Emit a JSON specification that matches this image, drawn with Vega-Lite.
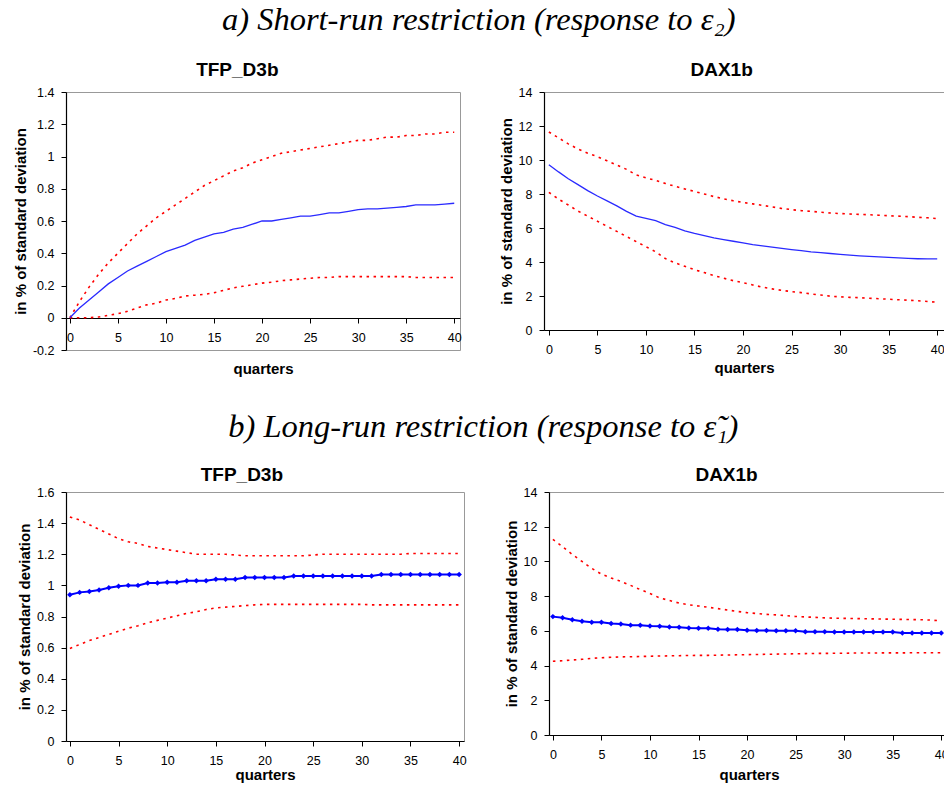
{
"$schema": "https://vega.github.io/schema/vega-lite/v6.json",
"padding": {"left": 12, "top": 4, "right": 0, "bottom": 0},
"background": "white",
"config": {
  "view": {"stroke": "#999999", "strokeWidth": 1},
  "axis": {"grid": false, "domainColor": "#000000", "tickColor": "#000000", "labelColor": "#000000", "titleColor": "#000000", "labelFont": "Liberation Sans", "titleFont": "Liberation Sans", "labelFontSize": 12.5, "titleFontSize": 15, "titleFontWeight": "bold", "tickSize": 5, "domainWidth": 1.2, "labelOverlap": false, "labelBound": false, "labelFlush": false},
  "axisY": {"labelPadding": 7, "titlePadding": 4},
  "axisX": {"labelPadding": 8, "titlePadding": 5},
  "title": {"font": "Liberation Sans", "fontSize": 19, "fontWeight": "bold", "color": "#000000", "offset": 6, "frame": "bounds"},
  "line": {"interpolate": "linear"}
},
"datasets": {
"a1": [
{"t":0,"m":0,"lo":0,"hi":0},{"t":1,"m":0.06,"lo":0,"hi":0.10},{"t":2,"m":0.11,"lo":0,"hi":0.19},{"t":3,"m":0.16,"lo":0.005,"hi":0.27},{"t":4,"m":0.21,"lo":0.015,"hi":0.34},{"t":5,"m":0.25,"lo":0.025,"hi":0.40},{"t":6,"m":0.29,"lo":0.04,"hi":0.46},{"t":7,"m":0.32,"lo":0.06,"hi":0.52},{"t":8,"m":0.35,"lo":0.08,"hi":0.57},{"t":9,"m":0.38,"lo":0.09,"hi":0.62},{"t":10,"m":0.41,"lo":0.11,"hi":0.66},{"t":11,"m":0.43,"lo":0.12,"hi":0.70},{"t":12,"m":0.45,"lo":0.135,"hi":0.74},{"t":13,"m":0.48,"lo":0.14,"hi":0.78},{"t":14,"m":0.50,"lo":0.145,"hi":0.82},{"t":15,"m":0.52,"lo":0.155,"hi":0.85},{"t":16,"m":0.53,"lo":0.17,"hi":0.88},{"t":17,"m":0.55,"lo":0.185,"hi":0.91},{"t":18,"m":0.56,"lo":0.195,"hi":0.93},{"t":19,"m":0.58,"lo":0.205,"hi":0.96},{"t":20,"m":0.60,"lo":0.215,"hi":0.98},{"t":21,"m":0.60,"lo":0.22,"hi":1.00},{"t":22,"m":0.61,"lo":0.23,"hi":1.02},{"t":23,"m":0.62,"lo":0.235,"hi":1.03},{"t":24,"m":0.63,"lo":0.24,"hi":1.04},{"t":25,"m":0.63,"lo":0.245,"hi":1.05},{"t":26,"m":0.64,"lo":0.25,"hi":1.06},{"t":27,"m":0.65,"lo":0.25,"hi":1.07},{"t":28,"m":0.65,"lo":0.255,"hi":1.08},{"t":29,"m":0.66,"lo":0.255,"hi":1.09},{"t":30,"m":0.67,"lo":0.255,"hi":1.10},{"t":31,"m":0.675,"lo":0.255,"hi":1.10},{"t":32,"m":0.675,"lo":0.255,"hi":1.11},{"t":33,"m":0.68,"lo":0.255,"hi":1.12},{"t":34,"m":0.685,"lo":0.255,"hi":1.12},{"t":35,"m":0.69,"lo":0.255,"hi":1.13},{"t":36,"m":0.70,"lo":0.25,"hi":1.13},{"t":37,"m":0.70,"lo":0.25,"hi":1.14},{"t":38,"m":0.70,"lo":0.25,"hi":1.14},{"t":39,"m":0.705,"lo":0.25,"hi":1.15},{"t":40,"m":0.71,"lo":0.25,"hi":1.15}
],
"a2": [
{"t":0,"m":9.72,"lo":8.1,"hi":11.65},{"t":1,"m":9.3,"lo":7.7,"hi":11.3},{"t":2,"m":8.9,"lo":7.35,"hi":10.95},{"t":3,"m":8.55,"lo":7.0,"hi":10.65},{"t":4,"m":8.2,"lo":6.7,"hi":10.4},{"t":5,"m":7.88,"lo":6.4,"hi":10.2},{"t":6,"m":7.6,"lo":6.1,"hi":9.95},{"t":7,"m":7.3,"lo":5.8,"hi":9.7},{"t":8,"m":6.98,"lo":5.5,"hi":9.45},{"t":9,"m":6.7,"lo":5.2,"hi":9.12},{"t":10,"m":6.57,"lo":4.9,"hi":8.95},{"t":11,"m":6.43,"lo":4.6,"hi":8.8},{"t":12,"m":6.2,"lo":4.2,"hi":8.62},{"t":13,"m":6.03,"lo":3.95,"hi":8.45},{"t":14,"m":5.83,"lo":3.75,"hi":8.3},{"t":15,"m":5.68,"lo":3.55,"hi":8.15},{"t":16,"m":5.55,"lo":3.38,"hi":8.0},{"t":17,"m":5.42,"lo":3.2,"hi":7.85},{"t":18,"m":5.32,"lo":3.05,"hi":7.72},{"t":19,"m":5.22,"lo":2.9,"hi":7.6},{"t":20,"m":5.12,"lo":2.78,"hi":7.5},{"t":21,"m":5.02,"lo":2.65,"hi":7.42},{"t":22,"m":4.95,"lo":2.52,"hi":7.33},{"t":23,"m":4.88,"lo":2.42,"hi":7.24},{"t":24,"m":4.80,"lo":2.33,"hi":7.15},{"t":25,"m":4.73,"lo":2.26,"hi":7.08},{"t":26,"m":4.67,"lo":2.2,"hi":7.02},{"t":27,"m":4.60,"lo":2.12,"hi":6.98},{"t":28,"m":4.55,"lo":2.06,"hi":6.93},{"t":29,"m":4.50,"lo":1.99,"hi":6.88},{"t":30,"m":4.45,"lo":1.95,"hi":6.85},{"t":31,"m":4.40,"lo":1.92,"hi":6.82},{"t":32,"m":4.36,"lo":1.9,"hi":6.80},{"t":33,"m":4.33,"lo":1.87,"hi":6.78},{"t":34,"m":4.30,"lo":1.84,"hi":6.75},{"t":35,"m":4.27,"lo":1.81,"hi":6.72},{"t":36,"m":4.24,"lo":1.78,"hi":6.70},{"t":37,"m":4.21,"lo":1.75,"hi":6.67},{"t":38,"m":4.19,"lo":1.72,"hi":6.63},{"t":39,"m":4.18,"lo":1.68,"hi":6.60},{"t":40,"m":4.18,"lo":1.63,"hi":6.55}
],
"b1": [
{"t":0,"m":0.94,"lo":0.595,"hi":1.44},{"t":1,"m":0.955,"lo":0.62,"hi":1.42},{"t":2,"m":0.96,"lo":0.645,"hi":1.39},{"t":3,"m":0.97,"lo":0.665,"hi":1.36},{"t":4,"m":0.985,"lo":0.685,"hi":1.33},{"t":5,"m":0.995,"lo":0.705,"hi":1.30},{"t":6,"m":1.0,"lo":0.725,"hi":1.28},{"t":7,"m":1.0,"lo":0.74,"hi":1.27},{"t":8,"m":1.015,"lo":0.76,"hi":1.25},{"t":9,"m":1.015,"lo":0.775,"hi":1.24},{"t":10,"m":1.02,"lo":0.79,"hi":1.23},{"t":11,"m":1.02,"lo":0.805,"hi":1.22},{"t":12,"m":1.03,"lo":0.82,"hi":1.21},{"t":13,"m":1.03,"lo":0.83,"hi":1.20},{"t":14,"m":1.03,"lo":0.845,"hi":1.20},{"t":15,"m":1.04,"lo":0.855,"hi":1.20},{"t":16,"m":1.04,"lo":0.86,"hi":1.20},{"t":17,"m":1.04,"lo":0.865,"hi":1.195},{"t":18,"m":1.05,"lo":0.87,"hi":1.19},{"t":19,"m":1.05,"lo":0.875,"hi":1.19},{"t":20,"m":1.05,"lo":0.878,"hi":1.19},{"t":21,"m":1.05,"lo":0.878,"hi":1.19},{"t":22,"m":1.05,"lo":0.878,"hi":1.19},{"t":23,"m":1.06,"lo":0.878,"hi":1.19},{"t":24,"m":1.06,"lo":0.878,"hi":1.19},{"t":25,"m":1.06,"lo":0.878,"hi":1.195},{"t":26,"m":1.06,"lo":0.878,"hi":1.20},{"t":27,"m":1.06,"lo":0.878,"hi":1.20},{"t":28,"m":1.06,"lo":0.878,"hi":1.20},{"t":29,"m":1.06,"lo":0.878,"hi":1.20},{"t":30,"m":1.06,"lo":0.878,"hi":1.20},{"t":31,"m":1.06,"lo":0.875,"hi":1.20},{"t":32,"m":1.07,"lo":0.875,"hi":1.20},{"t":33,"m":1.07,"lo":0.875,"hi":1.20},{"t":34,"m":1.07,"lo":0.875,"hi":1.20},{"t":35,"m":1.07,"lo":0.875,"hi":1.205},{"t":36,"m":1.07,"lo":0.875,"hi":1.205},{"t":37,"m":1.07,"lo":0.875,"hi":1.205},{"t":38,"m":1.07,"lo":0.875,"hi":1.205},{"t":39,"m":1.07,"lo":0.875,"hi":1.205},{"t":40,"m":1.07,"lo":0.875,"hi":1.205}
],
"b2": [
{"t":0,"m":6.82,"lo":4.25,"hi":11.27},{"t":1,"m":6.76,"lo":4.28,"hi":10.85},{"t":2,"m":6.64,"lo":4.32,"hi":10.4},{"t":3,"m":6.56,"lo":4.36,"hi":10.0},{"t":4,"m":6.50,"lo":4.42,"hi":9.6},{"t":5,"m":6.50,"lo":4.45,"hi":9.27},{"t":6,"m":6.43,"lo":4.48,"hi":9.05},{"t":7,"m":6.40,"lo":4.5,"hi":8.85},{"t":8,"m":6.33,"lo":4.51,"hi":8.62},{"t":9,"m":6.32,"lo":4.52,"hi":8.38},{"t":10,"m":6.28,"lo":4.54,"hi":8.15},{"t":11,"m":6.27,"lo":4.55,"hi":7.9},{"t":12,"m":6.22,"lo":4.56,"hi":7.75},{"t":13,"m":6.21,"lo":4.57,"hi":7.6},{"t":14,"m":6.16,"lo":4.58,"hi":7.5},{"t":15,"m":6.15,"lo":4.59,"hi":7.43},{"t":16,"m":6.15,"lo":4.59,"hi":7.36},{"t":17,"m":6.09,"lo":4.60,"hi":7.28},{"t":18,"m":6.08,"lo":4.61,"hi":7.2},{"t":19,"m":6.08,"lo":4.62,"hi":7.12},{"t":20,"m":6.03,"lo":4.63,"hi":7.05},{"t":21,"m":6.02,"lo":4.64,"hi":7.0},{"t":22,"m":6.02,"lo":4.65,"hi":6.95},{"t":23,"m":6.01,"lo":4.66,"hi":6.92},{"t":24,"m":6.01,"lo":4.67,"hi":6.88},{"t":25,"m":6.01,"lo":4.68,"hi":6.83},{"t":26,"m":5.95,"lo":4.69,"hi":6.80},{"t":27,"m":5.95,"lo":4.70,"hi":6.78},{"t":28,"m":5.95,"lo":4.70,"hi":6.75},{"t":29,"m":5.94,"lo":4.71,"hi":6.73},{"t":30,"m":5.94,"lo":4.71,"hi":6.72},{"t":31,"m":5.94,"lo":4.72,"hi":6.71},{"t":32,"m":5.94,"lo":4.72,"hi":6.70},{"t":33,"m":5.93,"lo":4.72,"hi":6.69},{"t":34,"m":5.93,"lo":4.73,"hi":6.68},{"t":35,"m":5.93,"lo":4.73,"hi":6.67},{"t":36,"m":5.87,"lo":4.73,"hi":6.66},{"t":37,"m":5.87,"lo":4.74,"hi":6.65},{"t":38,"m":5.87,"lo":4.74,"hi":6.64},{"t":39,"m":5.87,"lo":4.74,"hi":6.62},{"t":40,"m":5.88,"lo":4.74,"hi":6.57}
]
},
"spacing": 34,
"vconcat": [
 {
  "title": {"text": "a) Short-run restriction (response to ε₂)", "font": "Liberation Serif", "fontStyle": "italic", "fontWeight": "normal", "fontSize": 32.5, "anchor": "middle", "offset": 24},
  "spacing": 36,
  "hconcat": [
   {
    "width": 394, "height": 258,
    "title": {"text": "TFP_D3b", "offset": 6},
    "data": {"name": "a1"},
    "transform": [{"fold": ["hi", "lo", "m"], "as": ["s", "v"]}],
    "encoding": {
     "x": {"field": "t", "type": "quantitative", "scale": {"domain": [-0.4, 40.6], "nice": false, "zero": false}, "axis": {"values": [0,5,10,15,20,25,30,35,40], "title": "quarters", "offset": -32, "titlePadding": 18}},
     "y": {"field": "v", "type": "quantitative", "title": "in % of standard deviation", "scale": {"domain": [-0.2, 1.4], "nice": false}, "axis": {"values": [-0.2,0,0.2,0.4,0.6,0.8,1,1.2,1.4], "labelExpr": "replace(format(datum.value,'~g'),'−','-')"}}
    },
    "layer": [
     {"transform": [{"filter": "datum.s != 'm'"}], "mark": {"type": "line", "color": "#ff0000", "strokeDash": [2.5, 4.5], "strokeWidth": 1.6}, "encoding": {"detail": {"field": "s"}}},
     {"transform": [{"filter": "datum.s == 'm'"}], "mark": {"type": "line", "color": "#2a2aff", "strokeWidth": 1.3}}
    ]
   },
   {
    "width": 400, "height": 238,
    "title": {"text": "DAX1b", "offset": 6},
    "data": {"name": "a2"},
    "transform": [{"fold": ["hi", "lo", "m"], "as": ["s", "v"]}],
    "encoding": {
     "x": {"field": "t", "type": "quantitative", "scale": {"domain": [-0.5, 40.7], "nice": false, "zero": false}, "axis": {"values": [0,5,10,15,20,25,30,35,40], "title": "quarters", "titlePadding": 5}},
     "y": {"field": "v", "type": "quantitative", "title": "in % of standard deviation", "scale": {"domain": [0, 14], "nice": false}, "axis": {"values": [0,2,4,6,8,10,12,14]}}
    },
    "layer": [
     {"transform": [{"filter": "datum.s != 'm'"}], "mark": {"type": "line", "color": "#ff0000", "strokeDash": [2.5, 4.5], "strokeWidth": 1.6}, "encoding": {"detail": {"field": "s"}}},
     {"transform": [{"filter": "datum.s == 'm'"}], "mark": {"type": "line", "color": "#2a2aff", "strokeWidth": 1.3}}
    ]
   }
  ]
 },
 {
  "title": {"text": "b) Long-run restriction (response to  ε̃₁)", "font": "Liberation Serif", "fontStyle": "italic", "fontWeight": "normal", "fontSize": 32.5, "anchor": "middle", "offset": 22},
  "spacing": 36,
  "hconcat": [
   {
    "width": 398, "height": 249,
    "title": {"text": "TFP_D3b", "offset": 1},
    "data": {"name": "b1"},
    "transform": [{"fold": ["hi", "lo", "m"], "as": ["s", "v"]}],
    "encoding": {
     "x": {"field": "t", "type": "quantitative", "scale": {"domain": [-0.4, 40.5], "nice": false, "zero": false}, "axis": {"values": [0,5,10,15,20,25,30,35,40], "title": "quarters", "titlePadding": 1}},
     "y": {"field": "v", "type": "quantitative", "title": "in % of standard deviation", "scale": {"domain": [0, 1.6], "nice": false}, "axis": {"values": [0,0.2,0.4,0.6,0.8,1,1.2,1.4,1.6], "format": "~g"}}
    },
    "layer": [
     {"transform": [{"filter": "datum.s != 'm'"}], "mark": {"type": "line", "color": "#ff0000", "strokeDash": [2.5, 4.5], "strokeWidth": 1.6}, "encoding": {"detail": {"field": "s"}}},
     {"transform": [{"filter": "datum.s == 'm'"}], "mark": {"type": "line", "color": "#0000ff", "strokeWidth": 2}},
     {"transform": [{"filter": "datum.s == 'm'"}], "mark": {"type": "point", "shape": "diamond", "filled": true, "color": "#0000ff", "size": 30, "opacity": 1}}
    ]
   },
   {
    "width": 400, "height": 243,
    "title": {"text": "DAX1b", "offset": 1},
    "data": {"name": "b2"},
    "transform": [{"fold": ["hi", "lo", "m"], "as": ["s", "v"]}],
    "encoding": {
     "x": {"field": "t", "type": "quantitative", "scale": {"domain": [-0.4, 40.8], "nice": false, "zero": false}, "axis": {"values": [0,5,10,15,20,25,30,35,40], "title": "quarters", "titlePadding": 7}},
     "y": {"field": "v", "type": "quantitative", "title": "in % of standard deviation", "scale": {"domain": [0, 14], "nice": false}, "axis": {"values": [0,2,4,6,8,10,12,14]}}
    },
    "layer": [
     {"transform": [{"filter": "datum.s != 'm'"}], "mark": {"type": "line", "color": "#ff0000", "strokeDash": [2.5, 4.5], "strokeWidth": 1.6}, "encoding": {"detail": {"field": "s"}}},
     {"transform": [{"filter": "datum.s == 'm'"}], "mark": {"type": "line", "color": "#0000ff", "strokeWidth": 2}},
     {"transform": [{"filter": "datum.s == 'm'"}], "mark": {"type": "point", "shape": "diamond", "filled": true, "color": "#0000ff", "size": 30, "opacity": 1}}
    ]
   }
  ]
 }
]
}
